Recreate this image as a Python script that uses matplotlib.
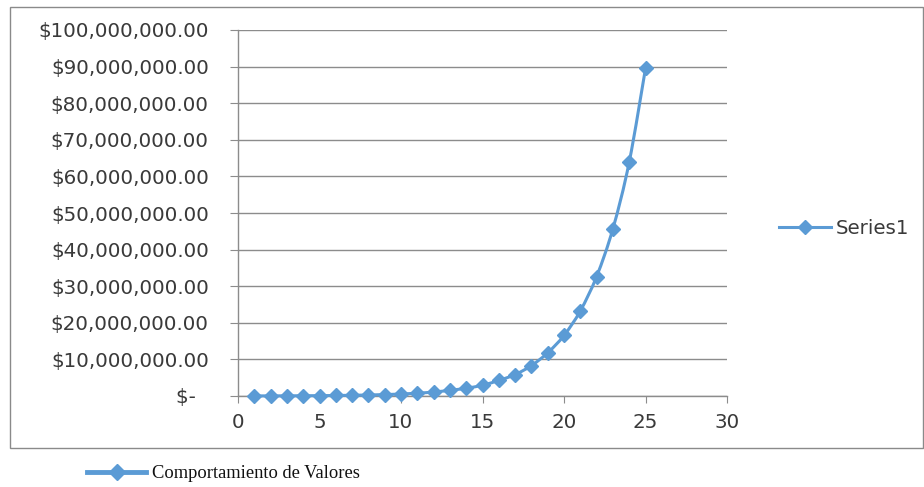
import matplotlib
matplotlib.use("Agg")
import matplotlib.pyplot as plt
import numpy as np
from matplotlib.path import Path
from matplotlib.patches import PathPatch, Rectangle
from matplotlib.lines import Line2D
from matplotlib.ticker import FuncFormatter

# ---- data ----
periods = [1, 2, 3, 4, 5, 6, 7, 8, 9, 10, 11, 12, 13,
           14, 15, 16, 17, 18, 19, 20, 21, 22, 23, 24, 25]
values = [27000, 37000, 52000, 73000, 100000, 140000, 200000, 280000,
          390000, 550000, 770000, 1080000, 1550000, 2120000, 2950000,
          4250000, 5850000, 8300000, 11800000, 16550000, 23250000,
          32650000, 45700000, 63900000, 89500000]
series_name = "Series1"
bottom_label = "Comportamiento de Valores"
y_ticks = [0, 10e6, 20e6, 30e6, 40e6, 50e6, 60e6, 70e6, 80e6, 90e6, 100e6]
x_ticks = [0, 5, 10, 15, 20, 25, 30]

W, H = 924, 487
fig = plt.figure(figsize=(W / 100, H / 100), dpi=100)
BLUE = "#5B9BD5"
GRID = "#8c8c8c"
TXT = "#3a3a3a"
FONT = "DejaVu Sans"
FS = 14.3

ax = fig.add_axes([238 / W, 1 - 396 / H, (727 - 238) / W, (396 - 30) / H])
ax.set_xlim(0, 30)
ax.set_ylim(0, 100e6)
ax.set_xticks(x_ticks)
ax.set_yticks(y_ticks)


def money(v, pos):
    if v == 0:
        return "$-  "
    return "${:,.2f}".format(v)


ax.yaxis.set_major_formatter(FuncFormatter(money))
ax.grid(axis="y", color=GRID, lw=1)
ax.set_axisbelow(True)
for s in ["top", "right"]:
    ax.spines[s].set_visible(False)
for s in ["left", "bottom"]:
    ax.spines[s].set_color(GRID)
    ax.spines[s].set_linewidth(1)
ax.tick_params(axis="y", length=6, color=GRID, pad=15, labelsize=FS,
               labelcolor=TXT)
ax.tick_params(axis="x", length=5, color=GRID, pad=7, labelsize=FS,
               labelcolor=TXT)
for lab in ax.get_xticklabels() + ax.get_yticklabels():
    lab.set_fontfamily(FONT)

# smoothed line (Catmull-Rom as cubic Bezier segments in data space)
xs = np.array(periods, dtype=float)
ys = np.array(values, dtype=float)
verts = [(xs[0], ys[0])]
codes = [Path.MOVETO]
n = len(xs)
for i in range(n - 1):
    p0 = (xs[max(i - 1, 0)], ys[max(i - 1, 0)])
    p1 = (xs[i], ys[i])
    p2 = (xs[i + 1], ys[i + 1])
    p3 = (xs[min(i + 2, n - 1)], ys[min(i + 2, n - 1)])
    c1 = (p1[0] + (p2[0] - p0[0]) / 6, p1[1] + (p2[1] - p0[1]) / 6)
    c2 = (p2[0] - (p3[0] - p1[0]) / 6, p2[1] - (p3[1] - p1[1]) / 6)
    verts += [c1, c2, p2]
    codes += [Path.CURVE4] * 3
ax.add_patch(PathPatch(Path(verts, codes), fill=False, edgecolor=BLUE,
                       lw=2.2, zorder=3, clip_on=False))
ax.plot(periods, values, linestyle="none", marker="D", markersize=7,
        color=BLUE, zorder=4, clip_on=False)

# right legend
h1 = Line2D([], [], color=BLUE, lw=2.2, marker="D", markersize=7)
leg = fig.legend([h1], [series_name], loc="center left",
                 bbox_to_anchor=(779 / W, 1 - 228 / H), frameon=False,
                 borderpad=0, borderaxespad=0, handlelength=2.6,
                 handletextpad=0.25, prop={"family": FONT, "size": FS})
for t in leg.get_texts():
    t.set_color(TXT)

# chart border
fig.add_artist(Rectangle((10 / W, 1 - 448 / H), (923 - 10) / W, (448 - 7) / H,
                         transform=fig.transFigure, fill=False,
                         edgecolor="#8a8a8a", lw=1))

# bottom legend
h2 = Line2D([], [], color=BLUE, lw=3.5, marker="D", markersize=8.5)
leg2 = fig.legend([h2], [bottom_label], loc="center left",
                  bbox_to_anchor=(87 / W, 1 - 474 / H), frameon=False,
                  borderpad=0, borderaxespad=0, handlelength=3.2,
                  handletextpad=0.3,
                  prop={"family": "Liberation Serif", "size": 13.3})
for t in leg2.get_texts():
    t.set_color("#111111")

fig.savefig("out.png", dpi=100)
